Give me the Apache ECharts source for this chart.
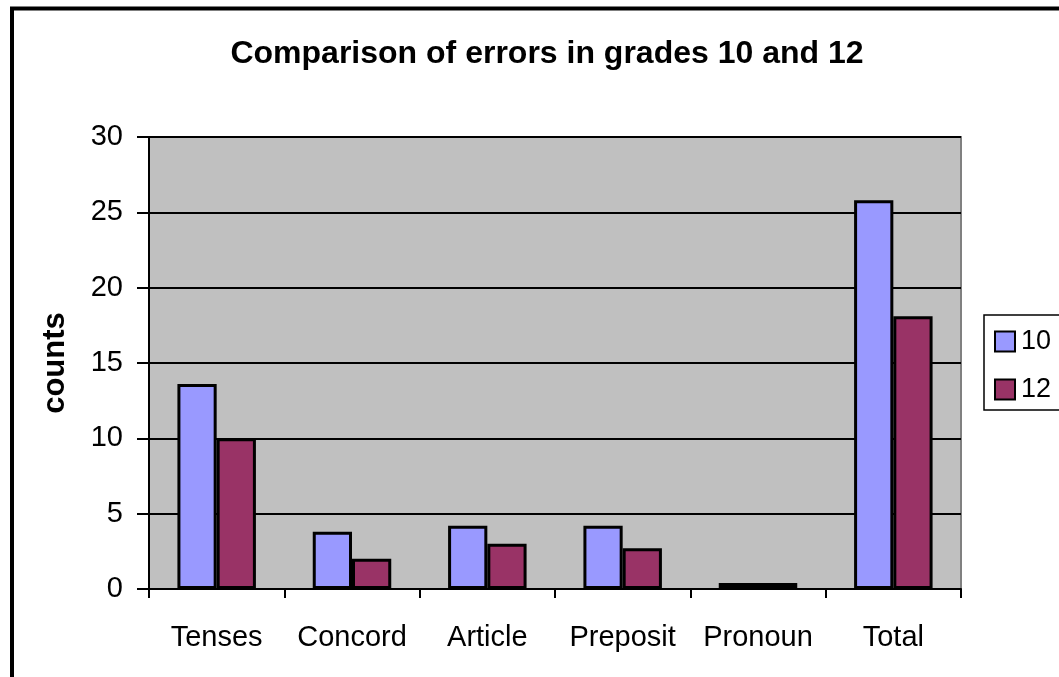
<!DOCTYPE html>
<html>
<head>
<meta charset="utf-8">
<style>
  html, body { margin: 0; padding: 0; background: #ffffff; }
  #chart { width: 1059px; height: 677px; }
</style>
<script src="https://cdn.jsdelivr.net/npm/echarts@6/dist/echarts.min.js"></script>
</head>
<body>
<div id="chart"></div>
<script>
// Error categories and counts per grade
const categories = ['Tenses', 'Concord', 'Article', 'Preposit', 'Pronoun', 'Total'];
const grade10 = [13.6, 3.8, 4.2, 4.2, 0.4, 25.8];
const grade12 = [10, 2, 3, 2.7, 0.4, 18.1];
const seriesNames = ['10', '12'];
const titleText = 'Comparison of errors in grades 10 and 12';
const yAxisTitle = 'counts';

const FONT = '"Liberation Sans", Arial, sans-serif';

const chart = echarts.init(document.getElementById('chart'), null, { renderer: 'canvas' });

const barStyle = (color) => ({
  color: color,
  borderColor: '#000000',
  borderWidth: 3
});

chart.setOption({
  backgroundColor: '#ffffff',
  animation: false,
  title: {
    text: titleText,
    left: 542,
    top: 33,
    textAlign: 'center',
    textStyle: { fontFamily: FONT, fontSize: 32, fontWeight: 'bold', color: '#000000' }
  },
  // outer chart frame (runs off the right and bottom edges)
  graphic: [{
    type: 'rect',
    z: -1,
    shape: { x: 12, y: 8.5, width: 1200, height: 800 },
    style: { fill: 'none', stroke: '#000000', lineWidth: 4 }
  }],
  legend: {
    orient: 'vertical',
    left: 984,
    top: 315,
    padding: [13, 40, 7, 10],
    itemWidth: 20,
    itemHeight: 20,
    itemGap: 21,
    borderColor: '#000000',
    borderWidth: 1.5,
    icon: 'rect',
    textStyle: { fontFamily: FONT, fontSize: 27, lineHeight: 26, color: '#000000', padding: [0, 0, 0, 1] },
    data: seriesNames
  },
  grid: {
    left: 149,
    right: 98,
    top: 137,
    bottom: 88,
    show: true,
    backgroundColor: '#C0C0C0',
    borderColor: '#808080',
    borderWidth: 2
  },
  xAxis: {
    type: 'category',
    data: categories,
    axisLine: { lineStyle: { color: '#000000', width: 2 } },
    axisTick: { show: true, interval: 0, length: 9, lineStyle: { color: '#000000', width: 2 } },
    axisLabel: { interval: 0, fontFamily: FONT, fontSize: 29, color: '#000000', margin: 34 }
  },
  yAxis: {
    type: 'value',
    min: 0,
    max: 30,
    interval: 5,
    name: yAxisTitle,
    nameLocation: 'middle',
    nameGap: 78,
    nameRotate: 90,
    nameTextStyle: { fontFamily: FONT, fontSize: 31, fontWeight: 'bold', color: '#000000' },
    axisLine: { show: true, lineStyle: { color: '#000000', width: 2 } },
    axisTick: { show: true, length: 12, lineStyle: { color: '#000000', width: 2 } },
    axisLabel: { fontFamily: FONT, fontSize: 29, color: '#000000', margin: 26 },
    splitLine: { show: true, lineStyle: { color: '#000000', width: 2 } }
  },
  series: [
    {
      name: seriesNames[0],
      type: 'bar',
      data: grade10,
      barGap: '0%',
      barCategoryGap: '42%',
      itemStyle: barStyle('#9999FF')
    },
    {
      name: seriesNames[1],
      type: 'bar',
      data: grade12,
      itemStyle: barStyle('#993366')
    }
  ]
});
</script>
</body>
</html>
